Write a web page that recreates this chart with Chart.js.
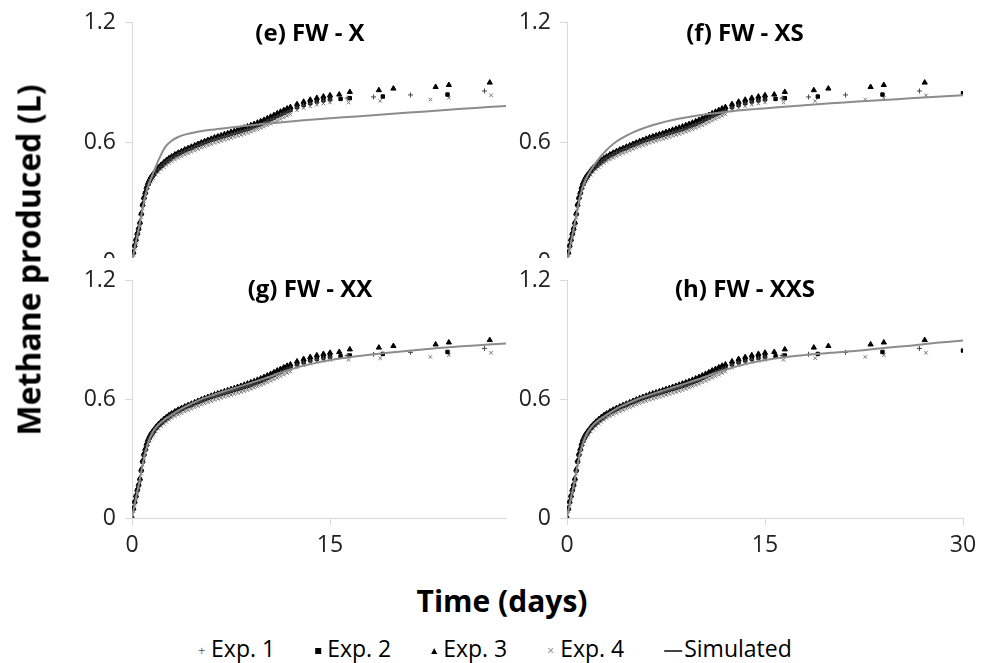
<!DOCTYPE html>
<html>
<head>
<meta charset="utf-8">
<script src="https://cdn.jsdelivr.net/npm/chart.js@4.4.1/dist/chart.umd.min.js"></script>
<style>
  body { margin: 0; background: #fff; }
  #fig { position: relative; width: 986px; height: 663px; overflow: hidden; font-family: "Open Sans", sans-serif; color: #000; }
  .panel { position: absolute; overflow: hidden; }
  .panel canvas { position: absolute; left: 0; top: 0; }
  .ptitle { position: absolute; font-weight: bold; font-size: 24px; transform: translate(-50%, -50%); white-space: nowrap; }
  #ytitle { position: absolute; left: 28px; top: 260px; font-weight: bold; font-size: 32px; white-space: nowrap; transform: translate(-50%, -50%) rotate(-90deg); }
  #xtitle { position: absolute; left: 502px; top: 600px; font-weight: bold; font-size: 30px; white-space: nowrap; transform: translate(-50%, -50%); }
  #legend { position: absolute; left: 495px; top: 648px; transform: translate(-50%, -50%); display: flex; gap: 40px; font-size: 23px; white-space: nowrap; align-items: center; }
  #legend span.sym { display: inline-block; margin-right: 6px; vertical-align: middle; }
</style>
</head>
<body>
<div id="fig">
  <div class="panel" style="left:0;top:0;width:515px;height:258px"><canvas id="c0" width="515" height="285"></canvas></div>
  <div class="panel" style="left:440px;top:0;width:546px;height:258px"><canvas id="c1" width="546" height="285"></canvas></div>
  <div class="panel" style="left:0;top:258px;width:515px;height:320px"><canvas id="c2" width="515" height="320"></canvas></div>
  <div class="panel" style="left:440px;top:258px;width:546px;height:320px"><canvas id="c3" width="546" height="320"></canvas></div>
  <div class="ptitle" style="left:310px;top:31px">(e) FW - X</div>
  <div class="ptitle" style="left:745px;top:31px">(f) FW - XS</div>
  <div class="ptitle" style="left:310px;top:287px">(g) FW - XX</div>
  <div class="ptitle" style="left:745px;top:287px">(h) FW - XXS</div>
  <div id="ytitle">Methane produced (L)</div>
  <div id="xtitle">Time (days)</div>
  <div id="legend">
    <div><span class="sym" style="color:#666;font-size:12px">+</span>Exp. 1</div>
    <div><span class="sym" style="width:6px;height:6px;background:#000"></span>Exp. 2</div>
    <div><span class="sym" style="width:0;height:0;border-left:3px solid transparent;border-right:3px solid transparent;border-bottom:6px solid #000"></span>Exp. 3</div>
    <div><span class="sym" style="color:#888;font-size:12px">×</span>Exp. 4</div>
    <div><span class="sym" style="width:18px;height:2px;background:#444;margin-right:2px"></span>Simulated</div>
  </div>
</div>
<script>
// experimental data (same for all four panels)
const days = [0, 0.1, 0.2, 0.3, 0.4, 0.5, 0.6, 0.7, 0.8, 0.9, 1.0, 1.1, 1.2, 1.3, 1.4, 1.5, 1.6,
  1.8, 2.0, 2.2, 2.4, 2.6, 2.8, 3.0,
  3.25, 3.5, 3.75, 4.0, 4.25, 4.5, 4.75, 5.0, 5.25, 5.5, 5.75,
  6.0, 6.25, 6.5, 6.75, 7.0, 7.25, 7.5, 7.75, 8.0, 8.25, 8.5, 8.75, 9.0,
  9.25, 9.5, 9.75, 10.0, 10.25, 10.5, 10.75, 11.0, 11.25, 11.5, 11.75, 12.0,
  12.5, 13.0, 13.5, 14.0, 14.5, 15.0];

const exp1 = [0, 0.04, 0.076, 0.106, 0.136, 0.161, 0.19, 0.234, 0.279, 0.315, 0.341, 0.366, 0.386, 0.401, 0.414, 0.424, 0.434,
  0.451, 0.466, 0.479, 0.491, 0.502, 0.512, 0.521,
  0.531, 0.54, 0.548, 0.556, 0.563, 0.57, 0.577, 0.584, 0.591, 0.597, 0.603,
  0.609, 0.615, 0.62, 0.625, 0.63, 0.635, 0.64, 0.645, 0.65, 0.655, 0.66, 0.665, 0.671,
  0.677, 0.683, 0.69, 0.697, 0.705, 0.713, 0.721, 0.729, 0.737, 0.745, 0.752, 0.759,
  0.774, 0.785, 0.794, 0.802, 0.808, 0.813];
const exp2 = [0, 0.045, 0.08, 0.11, 0.14, 0.165, 0.195, 0.24, 0.285, 0.32, 0.345, 0.37, 0.39, 0.405, 0.418, 0.428, 0.437,
  0.455, 0.47, 0.483, 0.495, 0.506, 0.516, 0.525,
  0.535, 0.544, 0.552, 0.56, 0.567, 0.574, 0.581, 0.588, 0.595, 0.601, 0.607,
  0.613, 0.619, 0.624, 0.629, 0.634, 0.639, 0.644, 0.649, 0.654, 0.659, 0.664, 0.669, 0.675,
  0.681, 0.687, 0.694, 0.701, 0.709, 0.717, 0.725, 0.733, 0.741, 0.749, 0.756, 0.763,
  0.778, 0.789, 0.798, 0.806, 0.812, 0.817];
const exp3 = [0, 0.05, 0.085, 0.115, 0.145, 0.17, 0.2, 0.245, 0.29, 0.325, 0.35, 0.375, 0.395, 0.41, 0.422, 0.432, 0.441,
  0.459, 0.474, 0.487, 0.499, 0.51, 0.52, 0.529,
  0.539, 0.548, 0.556, 0.564, 0.571, 0.578, 0.585, 0.592, 0.599, 0.606, 0.612,
  0.618, 0.625, 0.63, 0.635, 0.641, 0.646, 0.652, 0.657, 0.663, 0.668, 0.674, 0.68, 0.686,
  0.692, 0.699, 0.706, 0.713, 0.721, 0.729, 0.737, 0.746, 0.754, 0.762, 0.77, 0.777,
  0.792, 0.804, 0.814, 0.823, 0.83, 0.836];
const exp4 = [0, 0.035, 0.07, 0.1, 0.13, 0.155, 0.185, 0.225, 0.27, 0.305, 0.33, 0.355, 0.375, 0.39, 0.402, 0.412, 0.421,
  0.438, 0.452, 0.465, 0.476, 0.486, 0.496, 0.505,
  0.514, 0.522, 0.53, 0.538, 0.545, 0.552, 0.559, 0.566, 0.573, 0.579, 0.585,
  0.591, 0.597, 0.602, 0.607, 0.612, 0.617, 0.622, 0.627, 0.632, 0.637, 0.642, 0.647, 0.653,
  0.659, 0.665, 0.672, 0.679, 0.686, 0.693, 0.701, 0.709, 0.717, 0.725, 0.733, 0.74,
  0.761, 0.772, 0.781, 0.789, 0.795, 0.8];

// sparse later readings
const tail1Days = [16.3, 18.3, 21.1, 26.7];
const tail1 = [0.822, 0.828, 0.838, 0.858];
const tail2Days = [15.8, 16.5, 19.0, 23.9, 30.0];
const tail2 = [0.818, 0.822, 0.83, 0.84, 0.847];
const tail3Days = [15.7, 16.5, 18.7, 19.8, 23.0, 24.0, 27.1];
const tail3 = [0.84, 0.853, 0.862, 0.87, 0.878, 0.888, 0.9];
const tail4Days = [16.4, 18.8, 22.6, 24.0, 27.2];
const tail4 = [0.8, 0.808, 0.815, 0.824, 0.836];

// simulated curves
const simDays = [0, 0.25, 0.5, 0.75, 1, 1.25, 1.5, 1.75, 2, 2.5, 3, 3.5, 4, 5, 6, 7, 8, 9, 10,
  12, 14, 16, 18, 20, 22, 24, 26, 28, 30];
const simX = [0, 0.085, 0.165, 0.25, 0.33, 0.385, 0.43, 0.47, 0.51, 0.575, 0.608, 0.627, 0.639, 0.653,
  0.663, 0.671, 0.679, 0.686, 0.693, 0.705, 0.716, 0.726, 0.735, 0.745, 0.754, 0.764, 0.773, 0.781, 0.79];
const simXS = [0, 0.085, 0.165, 0.25, 0.33, 0.385, 0.425, 0.455, 0.48, 0.525, 0.562, 0.592, 0.615, 0.65,
  0.676, 0.696, 0.712, 0.725, 0.736, 0.753, 0.766, 0.776, 0.786, 0.796, 0.805, 0.813, 0.821, 0.829, 0.837];
const simXX = [0, 0.085, 0.165, 0.25, 0.33, 0.385, 0.425, 0.452, 0.472, 0.5, 0.522, 0.543, 0.562, 0.594,
  0.619, 0.641, 0.662, 0.683, 0.705, 0.752, 0.786, 0.809, 0.826, 0.84, 0.853, 0.864, 0.873, 0.882, 0.89];
const simXXS = [0, 0.085, 0.165, 0.25, 0.33, 0.385, 0.425, 0.452, 0.472, 0.5, 0.522, 0.543, 0.562, 0.592,
  0.617, 0.639, 0.66, 0.681, 0.703, 0.75, 0.786, 0.809, 0.824, 0.836, 0.846, 0.86, 0.872, 0.886, 0.898];

const yTicks = [0, 0.6, 1.2];
const xTicksLeft = [0, 15];
const xTicksRight = [0, 15, 30];

const pts = (xs, ys) => xs.map((x, i) => ({ x: x, y: ys[i] }));

function makePanel(id, sim, xMax, xTicks, yAxisW, padTop, padRight, xAxisH) {
  const axisColor = "#d9d9d9";
  const tickFont = { family: "Open Sans", size: 23 };
  new Chart(document.getElementById(id), {
    type: "scatter",
    data: {
      datasets: [
        { label: "Simulated", data: pts(simDays, sim), showLine: true, borderColor: "#8c8c8c",
          borderWidth: 2, pointRadius: 0, tension: 0.3, order: 0 },
        { label: "Exp. 1", data: pts(days, exp1).concat(pts(tail1Days, tail1)), pointStyle: "cross",
          pointRadius: 2.5, borderColor: "#444", borderWidth: 1, order: 1 },
        { label: "Exp. 2", data: pts(days, exp2).concat(pts(tail2Days, tail2)), pointStyle: "rect",
          pointRadius: 2.4, backgroundColor: "#000", borderColor: "#000", borderWidth: 1, order: 1 },
        { label: "Exp. 3", data: pts(days, exp3).concat(pts(tail3Days, tail3)), pointStyle: "triangle",
          pointRadius: 3, backgroundColor: "#000", borderColor: "#000", borderWidth: 1, order: 1 },
        { label: "Exp. 4", data: pts(days, exp4).concat(pts(tail4Days, tail4)), pointStyle: "crossRot",
          pointRadius: 2.5, borderColor: "#777", borderWidth: 1, order: 1 }
      ]
    },
    options: {
      responsive: false,
      animation: false,
      layout: { padding: { top: padTop, right: padRight, left: 0, bottom: 0 } },
      plugins: { legend: { display: false }, tooltip: { enabled: false } },
      scales: {
        x: {
          type: "linear", min: 0, max: xMax,
          afterBuildTicks: s => { s.ticks = xTicks.map(v => ({ value: v })); },
          afterFit: s => { s.height = xAxisH; },
          border: { display: true, color: axisColor, width: 1 },
          grid: { drawOnChartArea: false, drawTicks: true, tickLength: 7, color: axisColor },
          ticks: { font: tickFont, color: "#222", padding: 7, maxRotation: 0 }
        },
        y: {
          min: 0, max: 1.2,
          afterBuildTicks: s => { s.ticks = yTicks.map(v => ({ value: v })); },
          afterFit: s => { s.width = yAxisW; },
          border: { display: true, color: axisColor, width: 1 },
          grid: { drawOnChartArea: false, drawTicks: true, tickLength: 7, color: axisColor },
          ticks: { font: tickFont, color: "#222", padding: 9 }
        }
      }
    }
  });
}

makePanel("c0", simX, 28.33, xTicksLeft, 132, 22, 9, 23);
makePanel("c1", simXS, 30, xTicksRight, 127, 22, 23, 23);
makePanel("c2", simXX, 28.33, xTicksLeft, 132, 20, 9, 60);
makePanel("c3", simXXS, 30, xTicksRight, 127, 20, 23, 60);
</script>
</body>
</html>
